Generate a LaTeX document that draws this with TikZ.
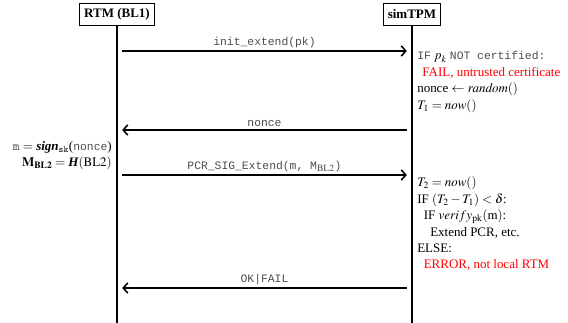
\documentclass[tikz,border=0pt]{standalone}
\usepackage{mathptmx}
\usepackage{fontspec}
\setmainfont{Liberation Serif}
\setmonofont{Liberation Mono}[Scale=0.875]
\usepackage{tikz}
\usetikzlibrary{arrows.meta, positioning}
\tikzstyle{actor} = [rectangle, draw=black, line width=1.2pt, font=\bfseries, inner sep=3.5pt, minimum height=17pt]
\tikzstyle{lifeline} = [line width=1.2pt]
\tikzstyle{msg} = [line width=1.2pt, -{Straight Barb[length=3.5pt, width=8pt, line width=1.2pt]}, shorten >=4pt, shorten <=4pt]
\tikzstyle{msglabel} = [font=\ttfamily, text=black!70, inner sep=0pt]
\tikzstyle{note} = [align=left, inner sep=0pt, font=\fontsize{10}{12.6}\selectfont]

\begin{document}
\begin{tikzpicture}[x=0.77pt, y=-0.77pt]
            \useasboundingbox (0,0) rectangle (568,323);

            \node[actor] (rtm) at (117,14.5) {RTM (BL1)};
            \node[actor] (tpm) at (412,14.5) {simTPM};

            \coordinate (rtmEnd) at (117,323);
            \coordinate (tpmEnd) at (412,323);

            % message levels on both lifelines
            \coordinate (rtmInit) at (117,51);
            \coordinate (tpmInit) at (412,51);
            \coordinate (rtmNonce) at (117,130);
            \coordinate (tpmNonce) at (412,130);
            \coordinate (rtmExt) at (117,175);
            \coordinate (tpmExt) at (412,175);
            \coordinate (rtmRes) at (117,288);
            \coordinate (tpmRes) at (412,288);

            \draw[lifeline] (rtm) -- (rtmEnd);
            \draw[lifeline] (tpm) -- (tpmEnd);

            \draw[msg] (rtmInit) -- node[msglabel, above=2pt] (initLabel) {init\_extend(pk)} (tpmInit);
            \draw[msg] (tpmNonce) -- node[msglabel, above=2pt] (nonceLabel) {nonce} (rtmNonce);
            \draw[msg] (rtmExt) -- node[msglabel, above=2pt] (extLabel) {PCR\_SIG\_Extend(m, M$_{\mathrm{BL2}}$)} (tpmExt);
            \draw[msg] (tpmRes) -- node[msglabel, above=2pt] (resLabel) {OK|FAIL} (rtmRes);

            \node[note, anchor=north west] (checkCert) at (417,51.5) {%
                {\color{black!70}\texttt{IF}} $p_k$ {\color{black!70}\texttt{NOT certified:}}\\
                \hspace*{4pt}\textcolor{red}{FAIL, untrusted certificate}\\
                nonce $\leftarrow$ $\mathit{random}()$\\
                $T_1 = \mathit{now}()$};

            \node[note, align=right, anchor=north east] (signMsg) at (112,141) {%
                {\color{black!70}$\mathtt{m}$} $=$ \textbf{\textit{sign}}$_{\mathtt{sk}}$({\color{black!70}\texttt{nonce}})\\
                $\mathbf{M}_{\mathbf{BL2}} = \mbox{\bfseries\itshape H}(\mathrm{BL2})$};

            \node[note, anchor=north west] (checkTime) at (417,177) {%
                $T_2 = \mathit{now}()$\\
                IF $(T_2 - T_1) < \delta$:\\
                \hspace*{5pt}IF $verify_{\mathrm{pk}}(\mathrm{m})$:\\
                \hspace*{10pt}Extend PCR, etc.\\
                ELSE:\\
                \hspace*{5pt}\textcolor{red}{ERROR, not local RTM}};

\end{tikzpicture}
\end{document}
